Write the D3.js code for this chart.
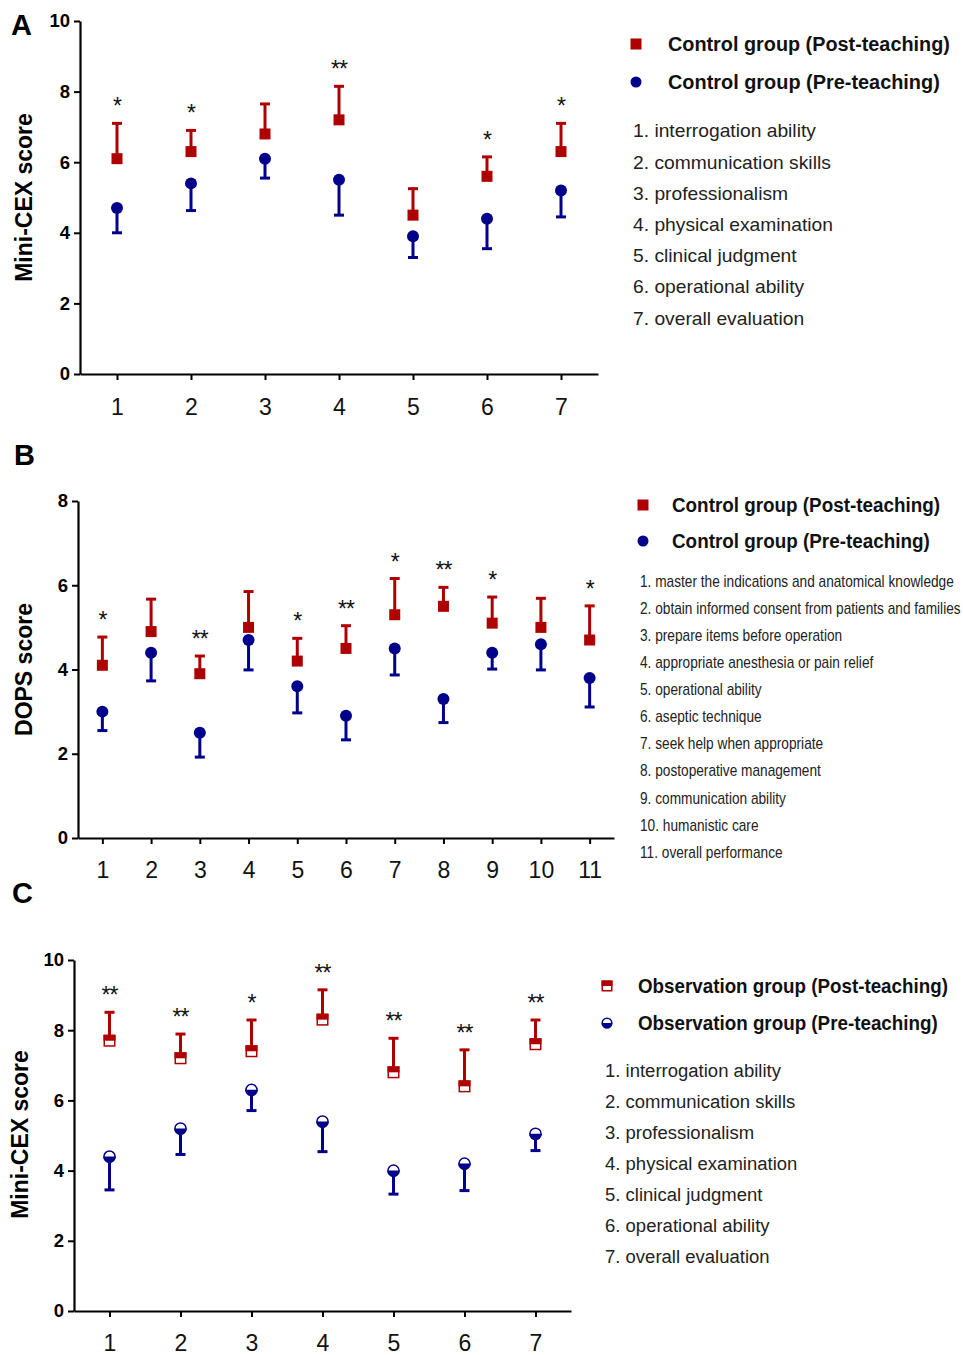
<!DOCTYPE html>
<html>
<head>
<meta charset="utf-8">
<script src="https://cdn.jsdelivr.net/npm/d3@7/dist/d3.min.js"></script>
<style>
  html, body { margin: 0; padding: 0; background: #fff; }
  svg { display: block; font-family: "Liberation Sans", Arial, sans-serif; }
</style>
</head>
<body>
<svg id="chart" width="963" height="1355"></svg>
<script>
// ---------------- DATA ----------------
// Panel A: Mini-CEX, control group
const aCategories = [1, 2, 3, 4, 5, 6, 7];
const aPostMean  = [6.1, 6.3, 6.8, 7.2, 4.5, 5.6, 6.3];
const aPostUpper = [7.1, 6.9, 7.65, 8.15, 5.25, 6.15, 7.1];
const aPreMean   = [4.7, 5.4, 6.1, 5.5, 3.9, 4.4, 5.2];
const aPreLower  = [4.0, 4.63, 5.55, 4.5, 3.3, 3.55, 4.45];
const aSig       = ["*", "*", "", "**", "", "*", "*"];
const aItems = ["1. interrogation ability", "2. communication skills", "3. professionalism",
  "4. physical examination", "5. clinical judgment", "6. operational ability", "7. overall evaluation"];
const aLegend = ["Control group (Post-teaching)", "Control group (Pre-teaching)"];

// Panel B: DOPS, control group
const bCategories = [1, 2, 3, 4, 5, 6, 7, 8, 9, 10, 11];
const bPostMean  = [4.1, 4.9, 3.9, 5.0, 4.2, 4.5, 5.3, 5.5, 5.1, 5.0, 4.7];
const bPostUpper = [4.77, 5.67, 4.32, 5.85, 4.74, 5.04, 6.16, 5.95, 5.72, 5.69, 5.51];
const bPreMean   = [3.0, 4.4, 2.5, 4.7, 3.6, 2.9, 4.5, 3.3, 4.4, 4.6, 3.8];
const bPreLower  = [2.55, 3.73, 1.92, 3.99, 2.97, 2.33, 3.87, 2.74, 4.01, 3.99, 3.11];
const bSig       = ["*", "", "**", "", "*", "**", "*", "**", "*", "", "*"];
const bItems = ["1. master the indications and anatomical knowledge",
  "2. obtain informed consent from patients and families", "3. prepare items before operation",
  "4. appropriate anesthesia or pain relief", "5. operational ability", "6. aseptic technique",
  "7. seek help when appropriate", "8. postoperative management", "9. communication ability",
  "10. humanistic care", "11. overall performance"];
const bLegend = ["Control group (Post-teaching)", "Control group (Pre-teaching)"];

// Panel C: Mini-CEX, observation group
const cCategories = [1, 2, 3, 4, 5, 6, 7];
const cPostMean  = [7.7, 7.2, 7.4, 8.3, 6.8, 6.4, 7.6];
const cPostUpper = [8.51, 7.89, 8.29, 9.15, 7.77, 7.44, 8.29];
const cPreMean   = [4.4, 5.2, 6.3, 5.4, 4.0, 4.2, 5.05];
const cPreLower  = [3.45, 4.46, 5.71, 4.54, 3.33, 3.43, 4.57];
const cSig       = ["**", "**", "*", "**", "**", "**", "**"];
const cItems = aItems;
const cLegend = ["Observation group (Post-teaching)", "Observation group (Pre-teaching)"];

// ---------------- STYLE ----------------
const RED = "#AE0000";
const BLUE = "#00008A";

const svg = d3.select("#chart");

function drawPanel(cfg) {
  const g = svg.append("g");
  const x = d3.scaleLinear().domain([0.5, cfg.categories.length + 0.5]).range(cfg.xRange);
  const y = d3.scaleLinear().domain(cfg.yDomain).range(cfg.yRange);

  // axes
  const yAxis = g.append("g").attr("transform", `translate(${cfg.xRange[0]},0)`)
    .call(d3.axisLeft(y).tickValues(cfg.yTicks).tickSize(6).tickSizeOuter(0).tickPadding(4));
  yAxis.select(".domain").attr("stroke", "#000").attr("stroke-width", 2.2);
  yAxis.selectAll(".tick line").attr("stroke", "#000").attr("stroke-width", 2);
  yAxis.selectAll(".tick text").attr("font-size", 18.5).attr("font-weight", "bold")
    .attr("font-family", "Liberation Sans, Arial, sans-serif").attr("fill", "#000");

  const xAxis = g.append("g").attr("transform", `translate(0,${cfg.yRange[0]})`)
    .call(d3.axisBottom(x).tickValues(cfg.categories).tickFormat(d3.format("d"))
      .tickSize(6).tickSizeOuter(0).tickPadding(cfg.xPad));
  xAxis.select(".domain").attr("stroke", "#000").attr("stroke-width", 2.2);
  xAxis.selectAll(".tick line").attr("stroke", "#000").attr("stroke-width", 2);
  xAxis.selectAll(".tick text").attr("font-size", 23)
    .attr("font-family", "Liberation Sans, Arial, sans-serif").attr("fill", "#111");

  // y label
  g.append("text")
    .attr("transform", `translate(${cfg.yLabelX},${(cfg.yRange[0] + cfg.yRange[1]) / 2 + cfg.yLabelShift}) rotate(-90)`)
    .attr("text-anchor", "middle").attr("font-size", 23).attr("font-weight", "bold")
    .text(cfg.yLabel);

  // panel letter
  g.append("text").attr("x", cfg.letterPos[0]).attr("y", cfg.letterPos[1])
    .attr("font-size", 29).attr("font-weight", "bold").text(cfg.letter);

  const idx = d3.range(cfg.categories.length);
  const capW = 10;

  // post error bars (upward)
  const post = g.append("g").attr("stroke", RED).attr("stroke-width", 3);
  post.selectAll("line.v").data(idx).join("line").attr("class", "v")
    .attr("x1", i => x(cfg.categories[i])).attr("x2", i => x(cfg.categories[i]))
    .attr("y1", i => y(cfg.postMean[i])).attr("y2", i => y(cfg.postUpper[i]));
  post.selectAll("line.c").data(idx).join("line").attr("class", "c")
    .attr("x1", i => x(cfg.categories[i]) - capW / 2).attr("x2", i => x(cfg.categories[i]) + capW / 2)
    .attr("y1", i => y(cfg.postUpper[i])).attr("y2", i => y(cfg.postUpper[i]));

  // pre error bars (downward)
  const pre = g.append("g").attr("stroke", BLUE).attr("stroke-width", 3);
  pre.selectAll("line.v").data(idx).join("line").attr("class", "v")
    .attr("x1", i => x(cfg.categories[i])).attr("x2", i => x(cfg.categories[i]))
    .attr("y1", i => y(cfg.preMean[i])).attr("y2", i => y(cfg.preLower[i]));
  pre.selectAll("line.c").data(idx).join("line").attr("class", "c")
    .attr("x1", i => x(cfg.categories[i]) - capW / 2).attr("x2", i => x(cfg.categories[i]) + capW / 2)
    .attr("y1", i => y(cfg.preLower[i])).attr("y2", i => y(cfg.preLower[i]));

  // markers
  const sq = cfg.half ? 12 : 11, r = cfg.half ? 6.3 : 6;
  idx.forEach(i => {
    const cx = x(cfg.categories[i]);
    drawSquare(g, cx, y(cfg.postMean[i]), sq, cfg.half);
    drawCircle(g, cx, y(cfg.preMean[i]), r, cfg.half);
  });

  // significance
  g.selectAll("text.sig").data(idx.filter(i => cfg.sig[i])).join("text").attr("class", "sig")
    .attr("x", i => x(cfg.categories[i])).attr("y", i => y(cfg.postUpper[i]) - 9)
    .attr("text-anchor", "middle").attr("font-size", 23).attr("fill", "#111")
    .attr("letter-spacing", -1)
    .text(i => cfg.sig[i]);

  // legend
  const L = cfg.legend;
  drawSquare(g, L.mx, L.y0, 11, cfg.half, true);
  drawCircle(g, L.mx, L.y1, 5.5, cfg.half, true);
  [[cfg.legendText[0], L.y0, L.w0], [cfg.legendText[1], L.y1, L.w1]].forEach(([t, yy, w]) => {
    const lg = g.append("g").attr("transform", `translate(${L.tx},0)`);
    const tx = lg.append("text").attr("x", 0).attr("y", yy + 7).attr("font-size", 20.5)
      .attr("font-weight", "bold").attr("fill", "#111").text(t);
    const nat = tx.node().getComputedTextLength();
    lg.attr("transform", `translate(${L.tx},0) scale(${w / nat},1)`);
  });

  // item list
  const list = g.append("g").attr("transform", `translate(${L.ix},0)`);
  const items = list.selectAll("text").data(cfg.items).join("text")
    .attr("x", 0).attr("y", (d, i) => L.iy + i * L.istep + L.ifs * 0.36)
    .attr("font-size", L.ifs).attr("fill", "#222").text(d => d);
  const w0 = items.node().getComputedTextLength();
  const s = L.iw / w0;
  list.attr("transform", `translate(${L.ix},0) scale(${s},1)`);
}

function drawSquare(g, cx, cy, s, half, legend) {
  if (!half) {
    g.append("rect").attr("x", cx - s / 2).attr("y", cy - s / 2).attr("width", s).attr("height", s)
      .attr("fill", RED);
  } else {
    g.append("rect").attr("x", cx - s / 2 + 0.75).attr("y", cy - s / 2 + 0.75)
      .attr("width", s - 1.5).attr("height", s - 1.5).attr("fill", "#fff")
      .attr("stroke", RED).attr("stroke-width", 1.5);
    g.append("rect").attr("x", cx - s / 2).attr("y", cy - s / 2).attr("width", s).attr("height", s * 0.5)
      .attr("fill", RED);
  }
}

function drawCircle(g, cx, cy, r, half, legend) {
  if (!half) {
    g.append("circle").attr("cx", cx).attr("cy", cy).attr("r", r).attr("fill", BLUE);
  } else {
    g.append("circle").attr("cx", cx).attr("cy", cy).attr("r", r - 0.75).attr("fill", "#fff")
      .attr("stroke", BLUE).attr("stroke-width", 1.5);
    g.append("path").attr("d", `M${cx - r},${cy} A${r},${r} 0 0 0 ${cx + r},${cy} Z`)
      .attr("fill", BLUE);
  }
}

drawPanel({
  letter: "A", letterPos: [11, 35],
  categories: aCategories, postMean: aPostMean, postUpper: aPostUpper,
  preMean: aPreMean, preLower: aPreLower, sig: aSig, items: aItems, legendText: aLegend,
  xRange: [80, 598], yRange: [374, 21], yDomain: [0, 10], yTicks: [0, 2, 4, 6, 8, 10],
  xPad: 19, yLabel: "Mini-CEX score", yLabelX: 32, yLabelShift: 0, half: false,
  legend: { mx: 636, tx: 668, y0: 44, y1: 82, w0: 282, w1: 272,
            ix: 633, iy: 131, istep: 31.2, ifs: 18, iw: 183 }
});

drawPanel({
  letter: "B", letterPos: [14, 465],
  categories: bCategories, postMean: bPostMean, postUpper: bPostUpper,
  preMean: bPreMean, preLower: bPreLower, sig: bSig, items: bItems, legendText: bLegend,
  xRange: [78, 614], yRange: [838, 501], yDomain: [0, 8], yTicks: [0, 2, 4, 6, 8],
  xPad: 18, yLabel: "DOPS score", yLabelX: 32, yLabelShift: 0, half: false,
  legend: { mx: 643, tx: 672, y0: 505, y1: 541, w0: 268, w1: 258,
            ix: 640, iy: 581, istep: 27.1, ifs: 16, iw: 314 }
});

drawPanel({
  letter: "C", letterPos: [12, 903],
  categories: cCategories, postMean: cPostMean, postUpper: cPostUpper,
  preMean: cPreMean, preLower: cPreLower, sig: cSig, items: cItems, legendText: cLegend,
  xRange: [74, 571], yRange: [1311, 960], yDomain: [0, 10], yTicks: [0, 2, 4, 6, 8, 10],
  xPad: 18, yLabel: "Mini-CEX score", yLabelX: 28, yLabelShift: -1, half: true,
  legend: { mx: 607, tx: 638, y0: 986, y1: 1023, w0: 310, w1: 300,
            ix: 605, iy: 1071, istep: 31, ifs: 18, iw: 176 }
});
</script>
</body>
</html>
